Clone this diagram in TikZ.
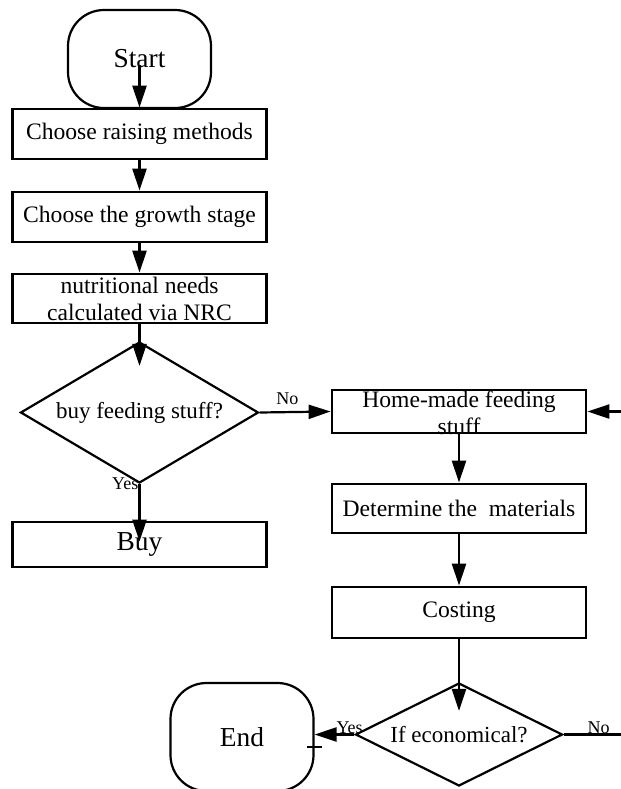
\documentclass[tikz,border=0pt]{standalone}
\usepackage{fontspec}
\setmainfont{Liberation Serif}
\usetikzlibrary{shapes.geometric,arrows.meta}

\begin{document}
\begin{tikzpicture}[x=0.5pt,y=-0.5pt,line width=1.1pt,
    stepbox/.style={draw,rectangle,line width=1.4pt,inner sep=0pt,minimum width=127pt,align=center,font=\fontsize{11.8}{13.5}\selectfont},
    term/.style={draw,rectangle,rounded corners=18pt,minimum width=71.5pt,inner sep=0pt,font=\fontsize{13.7}{16}\selectfont},
    ask/.style={draw,diamond,inner sep=0pt,font=\fontsize{11.5}{13.5}\selectfont},
    tag/.style={inner sep=0pt,font=\fontsize{9}{10}\selectfont},
    arr/.style={-{Triangle[length=11pt,width=7pt]}}]
    \useasboundingbox (0,0) rectangle (621,789);
    \clip (0,0) rectangle (621,789);
    % left column
    \node[term,minimum height=49pt] (start) at (139.5,59) {Start};
    \node[stepbox,minimum height=25pt] (raise) at (139.5,134) {Choose raising methods};
    \node[stepbox,minimum height=25pt] (stage) at (139.5,217) {Choose the growth stage};
    \node[stepbox,minimum height=24.5pt] (nrc) at (139.5,298.5) {nutritional needs\\calculated via NRC};
    \node[ask,aspect=1.69,minimum width=119pt,minimum height=70.5pt] (buyq) at (139.5,412.5) {buy feeding stuff?};
    \node[stepbox,minimum height=22.5pt,font=\fontsize{13.7}{16}\selectfont] (buy) at (139.5,544.5) {Buy};
    % right column
    \node[stepbox,minimum height=21.5pt] (home) at (459,411.5) {};
    \node[align=center,inner sep=0pt,font=\fontsize{11.8}{13.5}\selectfont] (hometext) at (459,412.5) {Home-made feeding\\stuff};
    \node[stepbox,minimum height=24.5pt] (mat) at (459,508.5) {Determine the\ \ materials};
    \node[stepbox,minimum height=25.5pt] (cost) at (459,612.5) {Costing};
    \node[ask,aspect=2,minimum width=103.5pt,minimum height=51.5pt] (eco) at (459,734.5) {If economical?};
    \node[term,minimum height=54pt] (fin) at (242,737) {End};
    \coordinate (backin) at (621,411.5);
    \coordinate (backout) at (621,734.5);
    % connectors
    \draw[arr] ([yshift=-3pt]start.center) -- (raise.north);
    \draw[arr] (raise.south) -- (stage.north);
    \draw[arr] (stage.south) -- (nrc.north);
    \draw[arr] (nrc.south) -- ([yshift=-12.5pt]buyq.north);
    \draw[arr] (buyq.south) -- node[tag,pos=0,left] (yes1) {Yes} ([yshift=-10.5pt]buy.north);
    \draw[arr] (buyq.east) -- node[tag,pos=.39,above=3pt] (no1) {No} (home.west);
    \draw[arr] (backin) -- (home.east);
    \draw[arr] (home.south) -- (mat.north);
    \draw[arr] (mat.south) -- (cost.north);
    \draw[arr] (cost.south) -- ([yshift=-14.5pt]eco.north);
    \draw[arr] (eco.west) -- node[tag,pos=.12,above] (yes2) {Yes} (eco.west -| fin.east);
    \draw (eco.east) -- node[tag,pos=.61,above] (no2) {No} (backout);
    \draw[line width=0.6pt] (307,747) -- (322,747);
\end{tikzpicture}
\end{document}
